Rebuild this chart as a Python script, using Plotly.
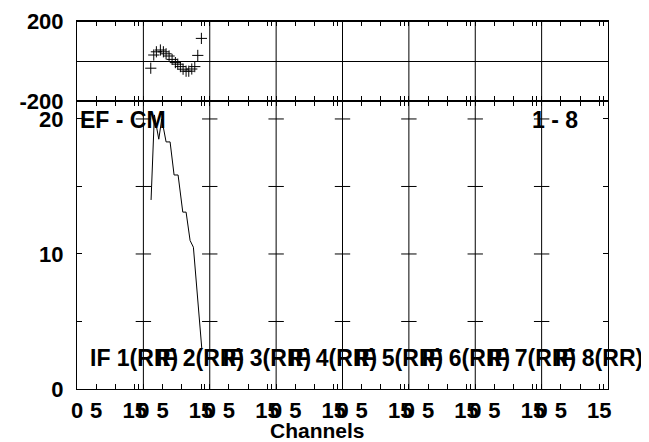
import plotly.graph_objects as go

# ---- data ----
n_if = 8
if_labels = [f"IF {i}(RR)" for i in range(1, n_if + 1)]
data_if = 2  # IF that carries the data
phase_chan = [1.92, 2.70, 3.38, 4.42, 5.20, 5.90, 6.68, 7.46, 8.32, 8.94,
              9.62, 10.32, 11.10, 11.80, 12.58, 13.36, 14.14, 15.08]
phase_deg = [-36, 30, 46, 55, 46, 36, 25, 8, -8, -16,
             -28, -41, -51, -51, -40, -28, 28, 113]
amp_chan = [2.0, 2.86, 4.0, 4.78, 5.9, 6.94, 7.98, 9.02, 10.24, 11.1, 12.14, 13.0, 15.18]
amp_val = [14.0, 20.3, 18.5, 20.0, 18.3, 18.3, 15.85, 15.85, 13.1, 13.1, 11.0, 10.5, 3.0]
chan_ticks = [0, 5, 10, 15, 16]
chan_ticktext = ["0", "5", "", "15", ""]
amp_ticks = [0, 5, 10, 15, 20]
amp_ticktext = ["0", "", "10", "", "20"]
phase_ticks = [-200, 200]
phase_ticktext = ["-200", "200"]

W = 17.25  # channels per IF panel (axis span)
FONT = "Liberation Sans"
BLK = "black"

off = (data_if - 1) * W
px = [off + c for c in phase_chan]
ax = [off + c for c in amp_chan]

tickvals = []
ticktext = []
for i in range(n_if):
    for t, tt in zip(chan_ticks, chan_ticktext):
        tickvals.append(i * W + t)
        ticktext.append(tt)

fig = go.Figure()
fig.add_trace(go.Scatter(x=px, y=phase_deg, mode="markers", xaxis="x", yaxis="y",
                         marker=dict(symbol="cross-thin", size=8,
                                     line=dict(color=BLK, width=1)),
                         showlegend=False))
fig.add_trace(go.Scatter(x=ax, y=amp_val, mode="lines", xaxis="x2", yaxis="y2",
                         line=dict(color=BLK, width=1), showlegend=False))
# tick crosses on panel dividers
dx, dy = [], []
for i in range(1, n_if):
    for v in amp_ticks[1:]:
        dx.append(i * W)
        dy.append(v)
fig.add_trace(go.Scatter(x=dx, y=dy, mode="markers", xaxis="x2", yaxis="y2",
                         marker=dict(symbol="line-ew", size=11,
                                     line=dict(color=BLK, width=1)),
                         showlegend=False))

split = 288 / 368
TF = dict(family=FONT, size=22, color=BLK, weight="bold")
axis_common = dict(showline=True, linecolor=BLK, linewidth=1, mirror="ticks",
                   ticks="inside", ticklen=5, tickcolor=BLK, tickwidth=1,
                   showgrid=False, zeroline=False, automargin=False,
                   ticklabeloverflow="allow", tickfont=TF)

fig.update_layout(
    width=641, height=434,
    margin=dict(l=69, r=41, t=13, b=53, autoexpand=False),
    paper_bgcolor="white", plot_bgcolor="white",
    xaxis=dict(domain=[0, 1], anchor="y", range=[0, n_if * W],
               tickvals=tickvals, ticktext=ticktext, showticklabels=False,
               **axis_common),
    xaxis2=dict(domain=[0, 1], anchor="y2", range=[0, n_if * W], matches="x",
                tickvals=tickvals, ticktext=ticktext, ticklabelstandoff=2,
                tickangle=0, **axis_common),
    yaxis=dict(domain=[split, 1], anchor="x", range=[-200, 200],
               tickvals=phase_ticks, ticktext=phase_ticktext,
               **{**axis_common, "ticks": "", "zeroline": True,
                  "zerolinecolor": BLK, "zerolinewidth": 1},
               ticklabelstandoff=8),
    yaxis2=dict(domain=[0, split], anchor="x2", range=[0, 21.33],
                tickvals=amp_ticks, ticktext=amp_ticktext,
                ticklabelstandoff=8, **axis_common),
)

# panel dividers and frame top
for i in range(1, n_if):
    fig.add_shape(type="line", xref="x", yref="paper", x0=i * W, x1=i * W,
                  y0=0, y1=1, line=dict(color=BLK, width=1))
fig.add_shape(type="line", xref="paper", yref="paper", x0=0, x1=1, y0=0.999, y1=0.999,
              line=dict(color=BLK, width=1.5))

bold = dict(family=FONT, size=23, color=BLK, weight="bold")
for i, lab in enumerate(if_labels):
    fig.add_annotation(x=i * W + 2.85, y=2.3, xref="x2", yref="y2", text=lab,
                       showarrow=False, xanchor="left", yanchor="middle", font=bold)
fig.add_annotation(x=0.25, y=19.9, xref="x2", yref="y2", text="EF - CM",
                   showarrow=False, xanchor="left", yanchor="middle", font=bold)
fig.add_annotation(x=117.7, y=19.9, xref="x2", yref="y2", text="1 - 8",
                   showarrow=False, xanchor="left", yanchor="middle", font=bold)
fig.add_annotation(x=0.452, y=-0.112, xref="paper", yref="paper", text="Channels",
                   showarrow=False, xanchor="center", yanchor="middle",
                   font=dict(family=FONT, size=21, color=BLK, weight="bold"))

fig.write_html("out.html", config={"displayModeBar": False})
